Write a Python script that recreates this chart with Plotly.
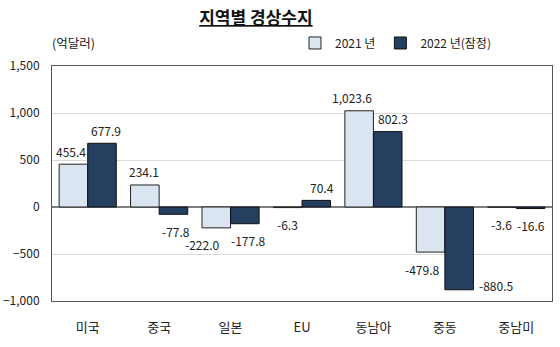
import plotly.graph_objects as go

categories = ["미국", "중국", "일본", "EU", "동남아", "중동", "중남미"]
y2021 = [455.4, 234.1, -222.0, -6.3, 1023.6, -479.8, -3.6]
y2022 = [677.9, -77.8, -177.8, 70.4, 802.3, -880.5, -16.6]
tickvals = [-1000, -500, 0, 500, 1000, 1500]

# label nudges (pixels), purely stylistic
dx2021 = [-2, -1, -14, 0, -7, -9, 0]
dx2022 = [4, 3, 3, 6, 5, 37, 0]
dy2021 = [0, 0, 0, 0, 0, 0, 0]
dy2022 = [0, 0, 0, 0, 0, 21, 0]

FONT = "Noto Sans CJK KR, Malgun Gothic, sans-serif"
BAR_OFF = 14.3

def fmt(v):
    return f"{v:,.1f}"

fig = go.Figure()
fig.add_trace(go.Bar(
    x=categories, y=y2021, name="2021 년",
    marker=dict(color="#dbe5f1", line=dict(color="#222222", width=1)),
))
fig.add_trace(go.Bar(
    x=categories, y=y2022, name="2022 년(잠정)",
    marker=dict(color="#243f60", line=dict(color="#111111", width=1)),
))

for vals, side, dxs, dys in ((y2021, -1, dx2021, dy2021), (y2022, 1, dx2022, dy2022)):
    for c, v, dx, dy in zip(categories, vals, dxs, dys):
        fig.add_annotation(
            x=c, y=v, xref="x", yref="y", text=fmt(v), showarrow=False,
            xanchor="center", yanchor="middle",
            xshift=side * BAR_OFF + dx,
            yshift=(13 if v >= 0 else -17) + dy,
            font=dict(size=12, color="#222222"),
        )

fig.update_layout(
    width=560, height=347,
    margin=dict(l=52, r=8, t=66, b=46),
    paper_bgcolor="white", plot_bgcolor="white",
    font=dict(family=FONT, size=12, color="#222222"),
    barmode="group", bargap=0.2, bargroupgap=0.0,
    showlegend=True,
    legend=dict(orientation="h", x=0.486, xanchor="left", y=1.098, yanchor="middle",
                font=dict(size=12), itemwidth=30, traceorder="normal",
                bgcolor="rgba(0,0,0,0)"),
    title=dict(text="<u><b>지역별 경상수지</b></u>", x=0.457, xanchor="center",
               y=0.948, yanchor="middle", font=dict(size=17, color="#111111")),
)
fig.update_yaxes(
    range=[-1000, 1500], tickvals=tickvals, tickformat=",", automargin=False,
    showgrid=True, gridcolor="#d9d9d9", gridwidth=1,
    zeroline=True, zerolinecolor="#7f7f7f", zerolinewidth=1.5,
    showline=True, linecolor="#555555", linewidth=1, mirror=True,
    ticks="", tickfont=dict(size=12), ticklabelstandoff=9,
)
fig.update_xaxes(
    automargin=False,
    showline=True, linecolor="#555555", linewidth=1, mirror=True,
    ticks="", tickfont=dict(size=13), ticklabelstandoff=14,
)
fig.add_annotation(text="(억달러)", xref="paper", yref="paper", x=-0.004, y=(301-43)/235,
                   xanchor="left", yanchor="middle", showarrow=False, font=dict(size=12.5))

fig.write_html("out.html")
